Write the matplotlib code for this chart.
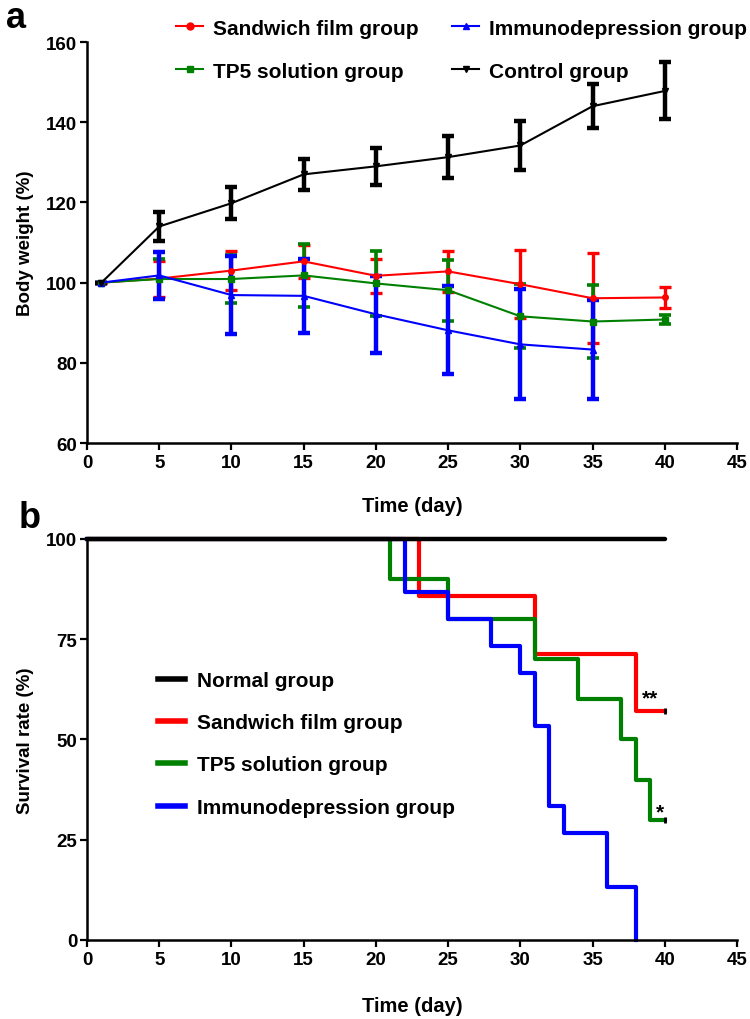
import matplotlib
matplotlib.use("Agg")
import matplotlib.pyplot as plt
from matplotlib.lines import Line2D

plt.rcParams['font.family'] = ['Liberation Sans', 'DejaVu Sans']
plt.rcParams['font.weight'] = 'bold'

# ---------------- panel a: body weight ----------------
days = [1, 5, 10, 15, 20, 25, 30, 35, 40]
control_mean = [100, 114.0, 119.8, 127.0, 129.0, 131.3, 134.2, 144.0, 147.8]
control_err = [0, 3.7, 4.0, 3.8, 4.6, 5.2, 6.2, 5.5, 7.1]
sandwich_mean = [100, 101.0, 103.0, 105.3, 101.7, 102.8, 99.6, 96.1, 96.3]
sandwich_err = [0, 4.5, 4.9, 4.2, 4.3, 5.1, 8.5, 11.2, 2.6]
tp5_mean = [100, 100.9, 100.9, 101.8, 99.8, 98.1, 91.6, 90.3, 90.8]
tp5_err = [0, 4.9, 6.0, 7.9, 8.1, 7.6, 8.0, 9.2, 1.2]
immuno_days = [1, 5, 10, 15, 20, 25, 30, 35]
immuno_mean = [100, 101.8, 96.9, 96.7, 92.1, 88.1, 84.6, 83.3]
immuno_err = [0, 5.8, 9.7, 9.2, 9.6, 11.0, 13.7, 12.4]

# ---------------- panel b: survival ----------------
normal_t = [0, 40]
normal_s = [100, 100]
sandwich_t = [0, 23, 31, 38, 40]
sandwich_s = [100, 85.7, 71.4, 57.1, 57.1]
tp5_t = [0, 21, 25, 31, 34, 37, 38, 39, 40]
tp5_s = [100, 90, 80, 70, 60, 50, 40, 30, 30]
immuno_t = [0, 22, 25, 28, 30, 31, 32, 33, 36, 38]
immuno_s = [100, 86.7, 80, 73.3, 66.7, 53.3, 33.3, 26.7, 13.3, 0]

RED, GREEN, BLUE, BLACK = '#ff0000', '#008000', '#0000ff', '#000000'

fig = plt.figure(figsize=(7.5, 10.2), dpi=100)
ax_a = fig.add_axes([0.116, 0.5647, 0.8667, 0.3931])
ax_b = fig.add_axes([0.116, 0.0775, 0.8667, 0.3931])


def style_axes(ax):
    for s in ['top', 'right']:
        ax.spines[s].set_visible(False)
    for s in ['left', 'bottom']:
        ax.spines[s].set_linewidth(1.8)
    ax.tick_params(direction='out', length=5, width=1.6, labelsize=13.5)
    ax.tick_params(axis='x', pad=3)
    ax.tick_params(axis='y', pad=2)
    for lab in ax.get_xticklabels() + ax.get_yticklabels():
        lab.set_fontweight('bold')


series_a = [
    (days, sandwich_mean, sandwich_err, RED, 'o', 2.4),
    (days, tp5_mean, tp5_err, GREEN, 's', 2.6),
    (immuno_days, immuno_mean, immuno_err, BLUE, '^', 3.2),
    (days, control_mean, control_err, BLACK, 'v', 3.2),
]
for x, m, e, c, mk, elw in series_a:
    ax_a.errorbar(x, m, yerr=e, color=c, marker=mk, ms=4, lw=1.5,
                  elinewidth=elw, capsize=4.5, capthick=elw, clip_on=False)

ax_a.set_xlim(0, 45)
ax_a.set_ylim(60, 160)
ax_a.set_xticks(range(0, 46, 5))
ax_a.set_yticks(range(60, 161, 20))
ax_a.set_xlabel('Time (day)', fontsize=14.5, fontweight='bold', labelpad=18)
ax_a.set_ylabel('Body weight (%)', fontsize=13.5, fontweight='bold', labelpad=9)
style_axes(ax_a)

handles_a = [
    Line2D([], [], color=RED, marker='o', ms=5, lw=1.5),
    Line2D([], [], color=GREEN, marker='s', ms=5, lw=1.5),
    Line2D([], [], color=BLUE, marker='^', ms=5, lw=1.5),
    Line2D([], [], color=BLACK, marker='v', ms=5, lw=1.5),
]
labels_a = ['Sandwich film group', 'TP5 solution group',
            'Immunodepression group', 'Control group']
fig.legend(handles_a, labels_a, loc='upper left', bbox_to_anchor=(0.21, 0.999),
           ncol=2, frameon=False, handlelength=1.3,
           handletextpad=0.48, columnspacing=1.6, labelspacing=1.15,
           prop={'weight': 'bold', 'size': 15})

# survival
ax_b.step(sandwich_t, sandwich_s, where='post', color=RED, lw=3, clip_on=False)
ax_b.step(tp5_t, tp5_s, where='post', color=GREEN, lw=3, clip_on=False)
ax_b.step(immuno_t, immuno_s, where='post', color=BLUE, lw=3, clip_on=False)
ax_b.step(normal_t, normal_s, where='post', color=BLACK, lw=3.2,
          clip_on=False, solid_capstyle='round')
ax_b.plot([sandwich_t[-1]], [sandwich_s[-1]], marker='|', color=BLACK, ms=5, mew=2)
ax_b.plot([tp5_t[-1]], [tp5_s[-1]], marker='|', color=BLACK, ms=5, mew=2)

ax_b.text(39.0, sandwich_s[-1] + 1.0, '**', fontsize=15, fontweight='bold',
          ha='center', va='bottom')
ax_b.text(39.7, tp5_s[-1] - 0.5, '*', fontsize=15, fontweight='bold',
          ha='center', va='bottom')

ax_b.set_xlim(0, 45)
ax_b.set_ylim(0, 100)
ax_b.set_xticks(range(0, 46, 5))
ax_b.set_yticks([0, 25, 50, 75, 100])
ax_b.set_xlabel('Time (day)', fontsize=14.5, fontweight='bold', labelpad=20)
ax_b.set_ylabel('Survival rate (%)', fontsize=13.5, fontweight='bold', labelpad=9)
style_axes(ax_b)

handles_b = [Line2D([], [], color=c, lw=4) for c in (BLACK, RED, GREEN, BLUE)]
labels_b = ['Normal group', 'Sandwich film group', 'TP5 solution group',
            'Immunodepression group']
ax_b.legend(handles_b, labels_b, loc='upper left', bbox_to_anchor=(0.08, 0.718),
            frameon=False, handlelength=1.3, handletextpad=0.58,
            labelspacing=1.12, prop={'weight': 'bold', 'size': 15})

fig.text(0.008, 0.982, 'a', fontsize=26, fontweight='bold', va='center')
fig.text(0.025, 0.492, 'b', fontsize=26, fontweight='bold', va='center')

fig.savefig('out.png', dpi=100)
